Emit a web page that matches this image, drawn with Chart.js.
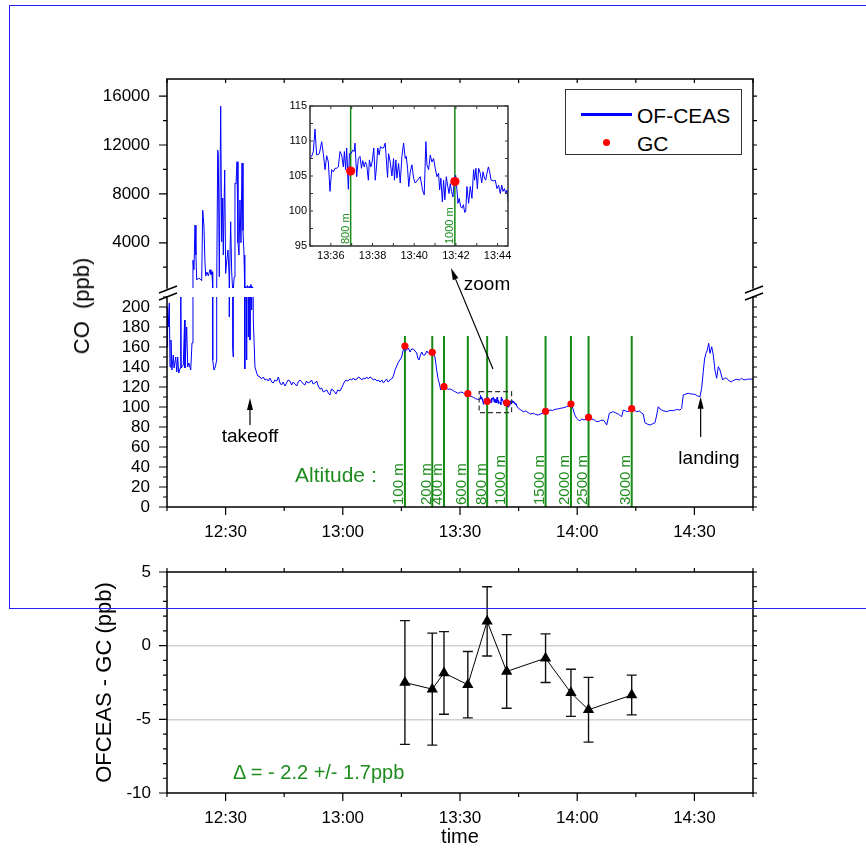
<!DOCTYPE html>
<html lang="en">
<head>
<meta charset="utf-8">
<title>CO: OF-CEAS vs GC</title>
<script src="https://cdn.jsdelivr.net/npm/chart.js@4.4.1/dist/chart.umd.min.js"></script>
<style>
  html, body { margin: 0; padding: 0; background: #fff; }
  body { position: relative; width: 866px; height: 849px; overflow: hidden;
         font-family: "Liberation Sans", Arial, sans-serif; color: #000; }
  canvas { position: absolute; left: 0; }
  #frame { position: absolute; left: 9px; top: 5px; width: 900px; height: 602px;
           border: 1px solid #2424f0; border-right: none; z-index: 5; pointer-events: none; }
  .txt { position: absolute; white-space: pre; line-height: 1; transform: translate(-50%, -50%); z-index: 4; }
  .left { transform: translate(0, -50%); }
  .green { color: #1e8c1e; }
  #legend { position: absolute; left: 565px; top: 89px; width: 175px; height: 64px;
            border: 1px solid #333; background: #fff; z-index: 3; }
  #legend .line { position: absolute; left: 15px; top: 23px; width: 51px; height: 3px; background: #0000ff; }
  #legend .dot { position: absolute; left: 37px; top: 49px; width: 7px; height: 7px; border-radius: 50%; background: #ff0000; }
  #legend .lab { position: absolute; left: 71px; font-size: 21px; line-height: 1; transform: translate(0, -50%); }
</style>
</head>
<body>
<div id="frame"></div>
<canvas id="cHigh" width="866" height="316" style="top:0"></canvas>
<canvas id="cLow" width="866" height="580" style="top:0"></canvas>
<canvas id="cInset" width="270" height="180" style="left:250px;top:90px"></canvas>
<canvas id="cDiff" width="866" height="304" style="top:545px"></canvas>

<div class="txt" style="left:82px;top:306px;font-size:22px;transform:translate(-50%,-50%) rotate(-90deg)">CO  (ppb)</div>
<div class="txt" style="left:250px;top:435px;font-size:19px">takeoff</div>
<div class="txt" style="left:709px;top:457px;font-size:19px">landing</div>
<div class="txt" style="left:487px;top:283px;font-size:19px">zoom</div>
<div class="txt left green" style="left:295px;top:474px;font-size:21px">Altitude :</div>
<div class="txt left green" style="left:233px;top:772px;font-size:20px">Δ = - 2.2 +/- 1.7ppb</div>
<div id="legend">
  <div class="line"></div><div class="lab" style="top:25px">OF-CEAS</div>
  <div class="dot"></div><div class="lab" style="top:53px">GC</div>
</div>

<script>
// time is in minutes after 12:00
const timeTicks = [30, 60, 90, 120, 150];
const coLowTicks = [0, 20, 40, 60, 80, 100, 120, 140, 160, 180, 200];
const coHighTicks = [4000, 8000, 12000, 16000];
const insetTimeTicks = [96, 98, 100, 102, 104];
const insetTicks = [95, 100, 105, 110, 115];
const diffTicks = [5, 0, -5, -10];

// OF-CEAS record (the 13:35-13:44 part is in the inset arrays)
const ofceasTime = [
  15.00, 15.15, 15.33, 15.59, 15.77, 16.02, 16.25, 16.61, 16.80, 17.23,
  17.50, 17.74, 18.00, 18.40, 18.51, 18.65, 19.17, 19.50, 19.60, 20.04,
  20.30, 20.60, 21.07, 21.40, 21.65, 21.90, 22.17, 22.40, 22.60, 23.01,
  23.45, 23.88, 24.14, 24.47, 24.70, 24.91, 25.24, 25.57, 26.01, 26.26,
  26.52, 26.70, 27.03, 27.36, 27.72, 27.98, 28.13, 28.39, 28.74, 29.00,
  29.26, 29.41, 29.77, 30.02, 30.28, 30.61, 30.87, 30.95, 31.30, 31.56,
  31.80, 31.97, 32.20, 32.40, 32.66, 32.92, 33.17, 33.43, 33.68, 33.94,
  34.20, 34.45, 34.71, 34.85, 34.96, 35.20, 35.40, 35.60, 35.81, 36.00,
  36.24, 36.50, 36.68, 36.90, 37.09, 37.52, 37.96, 38.30, 38.80, 39.20,
  39.65, 40.10, 40.52, 40.90, 41.36, 41.80, 42.21, 42.60, 43.08, 43.50,
  43.92, 44.30, 44.70, 45.20, 45.60, 46.00, 46.48, 46.90, 47.30, 47.76,
  48.20, 48.60, 49.04, 49.50, 49.90, 50.32, 50.70, 51.10, 51.60, 52.00,
  52.40, 52.88, 53.30, 53.70, 54.16, 54.60, 55.00, 55.44, 55.90, 56.30,
  56.72, 57.10, 57.49, 57.90, 58.26, 58.70, 59.28, 59.70, 60.05, 60.40,
  60.82, 61.30, 61.84, 62.30, 62.70, 63.12, 63.60, 64.00, 64.40, 64.90,
  65.30, 65.68, 66.10, 66.50, 66.96, 67.40, 67.80, 68.24, 68.70, 69.10,
  69.52, 70.00, 70.40, 70.80, 71.20, 71.60, 72.08, 72.50, 72.84, 73.10,
  73.36, 73.70, 74.12, 74.60, 75.07, 75.40, 75.66, 76.00, 76.35, 76.80,
  77.20, 77.60, 78.04, 78.50, 78.91, 79.20, 79.50, 79.80, 80.19, 80.60,
  81.04, 81.50, 81.88, 82.40, 82.90, 83.30, 83.60, 84.03, 84.44, 84.70,
  85.05, 85.50, 85.90, 86.40, 87.00, 87.60, 88.28, 88.90, 89.56, 90.20,
  90.84, 91.40, 92.04, 92.70, 93.40, 93.90, 94.42, 104.92, 105.60, 106.20,
  106.80, 107.48, 108.10, 108.76, 109.40, 110.04, 110.60, 111.20, 111.93, 112.50,
  113.03, 113.70, 114.31, 115.00, 115.59, 116.20, 116.87, 117.30, 117.71, 118.10,
  118.40, 118.70, 118.99, 119.40, 119.86, 120.30, 120.71, 121.20, 121.73, 122.30,
  122.93, 123.50, 124.11, 124.70, 125.39, 126.00, 126.67, 127.10, 127.54, 127.90,
  128.21, 128.70, 129.23, 129.90, 130.51, 131.00, 131.38, 131.79, 132.40, 133.07,
  133.50, 133.94, 134.60, 135.22, 135.90, 136.50, 136.90, 137.34, 137.90, 138.62,
  139.20, 139.90, 140.30, 140.75, 141.20, 141.62, 142.20, 142.90, 143.70, 144.59,
  145.40, 146.30, 146.74, 147.15, 147.80, 148.43, 149.20, 150.14, 150.80, 151.43,
  151.86, 152.27, 152.60, 152.96, 153.30, 153.66, 153.99, 154.43, 154.84, 155.26,
  155.70, 156.11, 156.54, 157.23, 157.70, 158.26, 158.90, 159.54, 160.20, 160.82,
  161.50, 162.10, 162.70, 163.38, 164.20, 165.00
];
const ofceasValue = [
  160, 200, 180, 204, 140, 167, 137, 152, 139, 150,
  135, 150, 134, 139, 250, 139, 142, 187, 139, 180,
  140, 144, 137, 164, 2570, 1800, 5440, 3000, 950, 1100,
  1050, 900, 6670, 5300, 2500, 1270, 1600, 1300, 1800, 1400,
  1630, 147, 137, 140, 147, 11580, 11300, 1220, 15180, 4080,
  7660, 3000, 9950, 1500, 2500, 3400, 1500, 190, 5720, 1600,
  160, 150, 1200, 8880, 8800, 10630, 4000, 3000, 7500, 4000,
  10520, 5000, 3000, 1500, 138, 440, 147, 500, 170, 440,
  167, 600, 197, 400, 187, 140, 134, 131, 130, 128,
  130, 127, 128, 126, 129, 125, 124, 127, 126, 130,
  124, 122, 125, 121, 124, 127, 126, 122, 125, 123,
  121, 125, 127, 125, 123, 122, 126, 124, 125, 127,
  123, 124, 126, 121, 118, 119, 115, 116, 117, 114,
  112, 118, 117, 115, 113, 117, 116, 119, 122, 125,
  127, 126, 128, 127, 129, 127, 128, 130, 129, 127,
  129, 128, 130, 128, 130, 129, 127, 128, 126, 127,
  125, 127, 124, 126, 128, 125, 127, 128, 130, 133,
  137, 140, 144, 147, 150, 156, 160, 156, 157, 159,
  155, 158, 158, 156, 154, 149, 147, 151, 155, 152,
  152, 156, 154, 153, 155, 152, 150, 137, 127, 124,
  117, 121, 120, 119, 117.7, 118, 116.3, 115, 113.7, 115,
  114.3, 112, 113.3, 111, 109.7, 108.5, 107.7, 98.7, 97, 95.3,
  96, 94.3, 93, 93.7, 92.5, 92, 93, 94, 95.7, 96,
  97, 96.5, 97.7, 98, 98.7, 99, 99.7, 100.5, 101, 102,
  103, 101, 97, 92, 88.7, 87, 86.3, 88, 87, 88,
  89.7, 88, 87.7, 86, 85.3, 86.5, 87, 85, 82, 88,
  93.7, 94.5, 95.3, 94, 93, 91.5, 90.3, 97, 96, 95.3,
  97, 98.3, 97, 95.3, 96, 94, 93, 84.3, 83, 82,
  83, 84.3, 91, 100.3, 98, 97, 96, 95.3, 96.5, 96.3,
  97.5, 97, 98.7, 112, 113, 113.7, 113, 112.7, 111, 110.3,
  118.7, 135.3, 148, 153.7, 157, 163.7, 153.7, 160.3, 152, 137,
  128.7, 140.3, 137, 127, 129, 128.7, 126, 125.3, 127, 127.7,
  127, 128.7, 127, 127.7, 128, 127.7
];

// zoomed part 13:35 - 13:44:30
const insetTime = [
  95.00, 95.08, 95.16, 95.24, 95.32, 95.45, 95.56, 95.64, 95.72, 95.80,
  95.88, 95.96, 96.04, 96.12, 96.20, 96.28, 96.36, 96.44, 96.52, 96.60,
  96.65, 96.71, 96.76, 96.84, 96.89, 96.97, 97.05, 97.12, 97.16, 97.24,
  97.32, 97.40, 97.47, 97.53, 97.60, 97.66, 97.72, 97.80, 97.85, 97.92,
  97.98, 98.06, 98.13, 98.19, 98.25, 98.32, 98.38, 98.45, 98.53, 98.61,
  98.72, 98.77, 98.85, 98.93, 99.01, 99.05, 99.12, 99.17, 99.25, 99.33,
  99.41, 99.49, 99.57, 99.62, 99.68, 99.74, 99.81, 99.89, 99.97, 100.05,
  100.16, 100.29, 100.40, 100.48, 100.56, 100.61, 100.69, 100.77, 100.85, 100.93,
  101.01, 101.09, 101.17, 101.22, 101.28, 101.35, 101.41, 101.47, 101.54, 101.60,
  101.67, 101.73, 101.79, 101.86, 101.92, 101.99, 102.05, 102.10, 102.16, 102.23,
  102.29, 102.36, 102.42, 102.47, 102.53, 102.61, 102.69, 102.77, 102.85, 102.90,
  102.96, 103.03, 103.09, 103.17, 103.24, 103.30, 103.37, 103.43, 103.49, 103.56,
  103.62, 103.69, 103.81, 103.89, 103.97, 104.05, 104.13, 104.20, 104.26, 104.33,
  104.39, 104.46, 104.50
];
const insetValue = [
  107.5, 107.8, 108.5, 111.7, 108.0, 108.2, 109.9, 108.2, 105.9, 107.9,
  107.0, 102.8, 105.9, 105.6, 106.1, 106.1, 106.3, 108.5, 108.0, 106.3,
  108.5, 105.9, 109.0, 103.1, 108.2, 108.2, 108.7, 108.5, 109.7, 104.9,
  107.5, 107.8, 106.1, 107.2, 106.3, 107.0, 106.6, 104.4, 107.3, 106.3,
  107.0, 109.0, 104.4, 106.3, 109.0, 108.0, 109.2, 109.0, 109.0, 109.7,
  104.8, 108.2, 107.0, 105.0, 107.5, 104.4, 107.3, 104.7, 106.8, 104.0,
  107.8, 109.7, 107.5, 107.8, 106.1, 103.5, 105.6, 106.6, 104.7, 104.0,
  104.4, 104.9, 103.0, 102.3, 109.9, 106.6, 105.9, 108.0, 107.0, 107.5,
  106.1, 104.9, 105.4, 103.0, 104.7, 101.3, 104.4, 101.6, 104.9, 103.7,
  102.5, 103.9, 102.8, 102.0, 104.4, 105.1, 103.0, 101.1, 101.8, 100.6,
  100.4, 100.9, 99.8, 99.9, 103.5, 101.1, 103.5, 101.8, 105.9, 104.4,
  106.1, 103.2, 106.1, 105.4, 104.0, 105.6, 104.7, 104.4, 105.4, 106.3,
  105.6, 104.4, 104.3, 104.4, 103.2, 103.7, 102.5, 103.7, 102.8, 103.2,
  102.5, 103.0, 101.3
];

// GC samples taken at each altitude level
const sampleTime = [75.9, 82.9, 85.9, 92.0, 96.95, 101.95, 111.9, 118.4, 122.9, 133.95];
const sampleAltitude = ['100 m', '200 m', '400 m', '600 m', '800 m', '1000 m', '1500 m', '2000 m', '2500 m', '3000 m'];
const gcValue = [161, 154.7, 120.3, 113.3, 105.7, 104.2, 95.7, 103, 89.7, 98.3];
const diffValue = [-2.5, -2.95, -1.85, -2.65, 1.65, -1.75, -0.85, -3.2, -4.35, -3.35];
const diffError = [4.2, 3.8, 2.8, 2.25, 2.35, 2.5, 1.65, 1.6, 2.2, 1.35];

// zoom window drawn as dashed box (time, ppb)
const zoomBox = [94.9, 103.2, 94.3, 115.3];

const BLUE = '#0000ff';
const GREEN = '#148a14';
const FONT = '"Liberation Sans", Arial, sans-serif';

Chart.defaults.font.family = FONT;
Chart.defaults.color = '#000';
Chart.defaults.animation = false;
Chart.defaults.responsive = false;
Chart.defaults.plugins.legend.display = false;
Chart.defaults.plugins.tooltip.enabled = false;

function clock(m) {
  const h = 12 + Math.floor(m / 60);
  return h + ':' + String(Math.round(m % 60)).padStart(2, '0');
}
function steps(a, b, d) {
  const out = [];
  for (let v = a; v <= b + 1e-9; v += d) out.push(+v.toFixed(3));
  return out;
}

const mainPoints = ofceasTime.map((t, i) => ({ x: t, y: ofceasValue[i] }))
  .concat(insetTime.map((t, i) => ({ x: t, y: insetValue[i] })))
  .sort((a, b) => a.x - b.x);
const gcPoints = sampleTime.map((t, i) => ({ x: t, y: gcValue[i] }));

// frame + tick marks (len > 0 outward, < 0 inward)
const axisFrame = {
  id: 'axisFrame',
  afterDatasetsDraw(chart, args, o) {
    const { ctx, chartArea: a } = chart;
    ctx.save();
    ctx.strokeStyle = o.color || '#000';
    ctx.lineWidth = o.lineWidth || 1.5;
    ctx.lineCap = 'square';
    ctx.beginPath();
    if (o.sides.includes('l')) { ctx.moveTo(a.left, a.top); ctx.lineTo(a.left, a.bottom); }
    if (o.sides.includes('r')) { ctx.moveTo(a.right, a.top); ctx.lineTo(a.right, a.bottom); }
    if (o.sides.includes('t')) { ctx.moveTo(a.left, a.top); ctx.lineTo(a.right, a.top); }
    if (o.sides.includes('b')) { ctx.moveTo(a.left, a.bottom); ctx.lineTo(a.right, a.bottom); }
    ctx.stroke();
    ctx.lineWidth = o.tickWidth || 1.2;
    ctx.lineCap = 'butt';
    ctx.beginPath();
    (o.ticks || []).forEach(t => {
      const s = chart.scales[t.axis];
      t.values.forEach(v => {
        const p = s.getPixelForValue(v);
        if (t.side === 'left') { ctx.moveTo(a.left, p); ctx.lineTo(a.left - t.len, p); }
        if (t.side === 'right') { ctx.moveTo(a.right, p); ctx.lineTo(a.right + t.len, p); }
        if (t.side === 'bottom') { ctx.moveTo(p, a.bottom); ctx.lineTo(p, a.bottom + t.len); }
        if (t.side === 'top') { ctx.moveTo(p, a.top); ctx.lineTo(p, a.top - t.len); }
      });
    });
    ctx.stroke();
    ctx.restore();
  }
};

function arrow(ctx, x0, y0, x1, y1) {
  const a = Math.atan2(y1 - y0, x1 - x0), L = 12, W = 3;
  ctx.beginPath();
  ctx.moveTo(x0, y0);
  ctx.lineTo(x1 - L * 0.8 * Math.cos(a), y1 - L * 0.8 * Math.sin(a));
  ctx.stroke();
  ctx.beginPath();
  ctx.moveTo(x1, y1);
  ctx.lineTo(x1 - L * Math.cos(a) + W * Math.sin(a), y1 - L * Math.sin(a) - W * Math.cos(a));
  ctx.lineTo(x1 - L * Math.cos(a) - W * Math.sin(a), y1 - L * Math.sin(a) + W * Math.cos(a));
  ctx.closePath();
  ctx.fill();
}

// altitude levels: vertical green lines with rotated labels
const altitudeMarks = {
  id: 'altitudeMarks',
  beforeDatasetsDraw(chart, args, o) {
    const { ctx } = chart;
    const x = chart.scales.x, y = chart.scales.y;
    const yTop = o.top == null ? chart.chartArea.top : y.getPixelForValue(o.top);
    const yBot = chart.chartArea.bottom;
    ctx.save();
    ctx.strokeStyle = GREEN;
    ctx.lineWidth = o.lineWidth;
    ctx.beginPath();
    o.times.forEach(t => {
      if (t < x.min || t > x.max) return;
      const px = x.getPixelForValue(t);
      ctx.moveTo(px, yTop); ctx.lineTo(px, yBot);
    });
    ctx.stroke();
    ctx.fillStyle = '#1e8c1e';
    ctx.font = o.fontSize + 'px ' + FONT;
    ctx.textAlign = 'left';
    ctx.textBaseline = 'alphabetic';
    o.times.forEach((t, i) => {
      if (t < x.min || t > x.max) return;
      ctx.save();
      ctx.translate(x.getPixelForValue(t) - 1.5, yBot - 2);
      ctx.rotate(-Math.PI / 2);
      ctx.fillText(o.labels[i], 0, 0);
      ctx.restore();
    });
    ctx.restore();
  }
};

// arrows, zoom box and axis break marks on the main (low) panel
const mainNotes = {
  id: 'mainNotes',
  afterDraw(chart) {
    const { ctx, chartArea: a } = chart;
    const x = chart.scales.x, y = chart.scales.y;
    ctx.save();
    ctx.strokeStyle = '#000';
    ctx.fillStyle = '#000';
    ctx.lineWidth = 1.2;
    arrow(ctx, x.getPixelForValue(36.24), y.getPixelForValue(82), x.getPixelForValue(36.24), y.getPixelForValue(109));
    arrow(ctx, x.getPixelForValue(151.6), y.getPixelForValue(70), x.getPixelForValue(151.6), y.getPixelForValue(110.3));
    arrow(ctx, x.getPixelForValue(98.44), y.getPixelForValue(138), x.getPixelForValue(87.69), y.getPixelForValue(239));
    ctx.strokeStyle = '#333';
    ctx.setLineDash([5, 3]);
    const bx0 = x.getPixelForValue(zoomBox[0]), bx1 = x.getPixelForValue(zoomBox[1]);
    const by0 = y.getPixelForValue(zoomBox[2]), by1 = y.getPixelForValue(zoomBox[3]);
    ctx.strokeRect(bx0, by1, bx1 - bx0, by0 - by1);
    ctx.setLineDash([]);
    ctx.strokeStyle = '#000';
    ctx.lineWidth = 1.5;
    ctx.beginPath();
    [a.left, a.right].forEach(px => {
      ctx.moveTo(px - 8, a.top - 4); ctx.lineTo(px + 10, a.top - 11);
      ctx.moveTo(px - 8, a.top + 3); ctx.lineTo(px + 10, a.top - 4);
    });
    ctx.stroke();
    ctx.restore();
  }
};

const errorBars = {
  id: 'errorBars',
  beforeDatasetsDraw(chart) {
    const { ctx } = chart;
    const x = chart.scales.x, y = chart.scales.y;
    ctx.save();
    ctx.strokeStyle = '#111';
    ctx.lineWidth = 1.4;
    ctx.beginPath();
    sampleTime.forEach((t, i) => {
      const px = x.getPixelForValue(t);
      const hi = y.getPixelForValue(diffValue[i] + diffError[i]);
      const lo = y.getPixelForValue(diffValue[i] - diffError[i]);
      ctx.moveTo(px, hi); ctx.lineTo(px, lo);
      ctx.moveTo(px - 5, hi); ctx.lineTo(px + 5, hi);
      ctx.moveTo(px - 5, lo); ctx.lineTo(px + 5, lo);
    });
    ctx.stroke();
    ctx.restore();
  }
};

const labelTicks = (list, size, pad, fmt) => ({
  afterBuildTicks: s => { s.ticks = list.map(v => ({ value: v })); },
  grid: { display: false, drawTicks: false },
  border: { display: false },
  ticks: { padding: pad, font: { size: size }, maxRotation: 0, autoSkip: false, callback: fmt || (v => String(v)) }
});

const minorTime = steps(15, 165, 15);

// upper part of the broken axis
new Chart(document.getElementById('cHigh'), {
  type: 'line',
  data: { datasets: [{ data: mainPoints, borderColor: BLUE, borderWidth: 1, pointRadius: 0, tension: 0 }] },
  options: {
    layout: { padding: { left: 77, right: 113, top: 79, bottom: 28 } },
    scales: {
      x: { type: 'linear', min: 15, max: 165, display: false },
      y: Object.assign({ type: 'linear', min: 300, max: 17400, afterFit: s => { s.width = 90; } },
        labelTicks(coHighTicks, 17, 17))
    },
    plugins: {
      axisFrame: {
        sides: 'lrt',
        ticks: [
          { axis: 'y', side: 'left', values: coHighTicks, len: 8 },
          { axis: 'y', side: 'left', values: steps(2000, 16000, 4000), len: 4 },
          { axis: 'y', side: 'right', values: steps(2000, 16000, 2000), len: 4 },
          { axis: 'x', side: 'top', values: minorTime, len: -4 }
        ]
      }
    }
  },
  plugins: [axisFrame]
});

// lower part 0-210 ppb with GC samples
new Chart(document.getElementById('cLow'), {
  type: 'line',
  data: {
    datasets: [
      { data: gcPoints, showLine: false, pointRadius: 3.6, pointBackgroundColor: '#ff0000', pointBorderWidth: 0 },
      { data: mainPoints, borderColor: BLUE, borderWidth: 1, pointRadius: 0, tension: 0 }
    ]
  },
  options: {
    layout: { padding: { left: 77, right: 113, top: 297, bottom: 23 } },
    scales: {
      x: Object.assign({ type: 'linear', min: 15, max: 165, afterFit: s => { s.height = 50; } },
        labelTicks(timeTicks, 17, 15, v => clock(v))),
      y: Object.assign({ type: 'linear', min: 0, max: 210, afterFit: s => { s.width = 90; } },
        labelTicks(coLowTicks, 17, 17))
    },
    plugins: {
      altitudeMarks: { times: sampleTime, labels: sampleAltitude, top: 171, lineWidth: 2, fontSize: 15 },
      axisFrame: {
        sides: 'lrb',
        ticks: [
          { axis: 'y', side: 'left', values: coLowTicks, len: 8 },
          { axis: 'y', side: 'left', values: steps(10, 210, 20), len: 4 },
          { axis: 'y', side: 'right', values: steps(0, 210, 10), len: 4 },
          { axis: 'x', side: 'bottom', values: timeTicks, len: 8 },
          { axis: 'x', side: 'bottom', values: minorTime, len: 4 }
        ]
      }
    }
  },
  plugins: [altitudeMarks, axisFrame, mainNotes]
});

// inset: zoom on 13:35 - 13:44
new Chart(document.getElementById('cInset'), {
  type: 'line',
  data: {
    datasets: [
      { data: gcPoints, showLine: false, pointRadius: 4.6, pointBackgroundColor: '#ff0000', pointBorderWidth: 0 },
      { data: insetTime.map((t, i) => ({ x: t, y: insetValue[i] })), borderColor: BLUE, borderWidth: 1, pointRadius: 0, tension: 0 }
    ]
  },
  options: {
    layout: { padding: { left: 30, right: 12, top: 16, bottom: 2 } },
    scales: {
      x: Object.assign({ type: 'linear', min: 95, max: 104.5, afterFit: s => { s.height = 22; } },
        labelTicks(insetTimeTicks, 11, 3, v => clock(v))),
      y: Object.assign({ type: 'linear', min: 95, max: 115, afterFit: s => { s.width = 30; } },
        labelTicks(insetTicks, 11, 3))
    },
    plugins: {
      altitudeMarks: { times: sampleTime, labels: sampleAltitude, top: null, lineWidth: 1.5, fontSize: 11 },
      axisFrame: {
        sides: 'lrtb', color: '#333', lineWidth: 1.5, tickWidth: 1,
        ticks: [
          { axis: 'y', side: 'left', values: steps(95, 115, 2.5), len: -3 },
          { axis: 'y', side: 'right', values: steps(95, 115, 2.5), len: -3 },
          { axis: 'x', side: 'bottom', values: steps(95, 104, 1), len: -3 },
          { axis: 'x', side: 'top', values: steps(95, 104, 1), len: -3 }
        ]
      }
    }
  },
  plugins: [altitudeMarks, axisFrame]
});

// difference OF-CEAS - GC
new Chart(document.getElementById('cDiff'), {
  type: 'line',
  data: {
    datasets: [{
      data: sampleTime.map((t, i) => ({ x: t, y: diffValue[i] })),
      borderColor: '#000', borderWidth: 1, tension: 0,
      pointStyle: 'triangle', pointRadius: 6.5, pointBackgroundColor: '#000', pointBorderColor: '#000', pointBorderWidth: 0
    }]
  },
  options: {
    layout: { padding: { left: 67, right: 113, top: 27, bottom: 0 } },
    scales: {
      x: Object.assign({ type: 'linear', min: 15, max: 165, afterFit: s => { s.height = 56; } },
        labelTicks(timeTicks, 17, 15, v => clock(v)),
        { title: { display: true, text: 'time', font: { size: 20 }, padding: { top: 0, bottom: 0 } } }),
      y: Object.assign({ type: 'linear', min: -10, max: 5, afterFit: s => { s.width = 100; } },
        labelTicks(diffTicks, 17, 16),
        {
          grid: {
            display: true, drawTicks: false, lineWidth: 1.5,
            color: c => (c.tick && (c.tick.value === 0 || c.tick.value === -5)) ? '#d2d2d2' : 'rgba(0,0,0,0)'
          },
          title: { display: true, text: 'OFCEAS - GC (ppb)', font: { size: 22 }, padding: { top: 25, bottom: 0 } }
        })
    },
    plugins: {
      axisFrame: {
        sides: 'lrtb',
        ticks: [
          { axis: 'y', side: 'left', values: diffTicks, len: 8 },
          { axis: 'y', side: 'left', values: steps(-10, 5, 1), len: 4 },
          { axis: 'y', side: 'right', values: steps(-10, 5, 1), len: 4 },
          { axis: 'x', side: 'bottom', values: timeTicks, len: 8 },
          { axis: 'x', side: 'bottom', values: minorTime, len: 4 },
          { axis: 'x', side: 'top', values: minorTime, len: 4 }
        ]
      }
    }
  },
  plugins: [errorBars, axisFrame]
});
</script>
</body>
</html>
